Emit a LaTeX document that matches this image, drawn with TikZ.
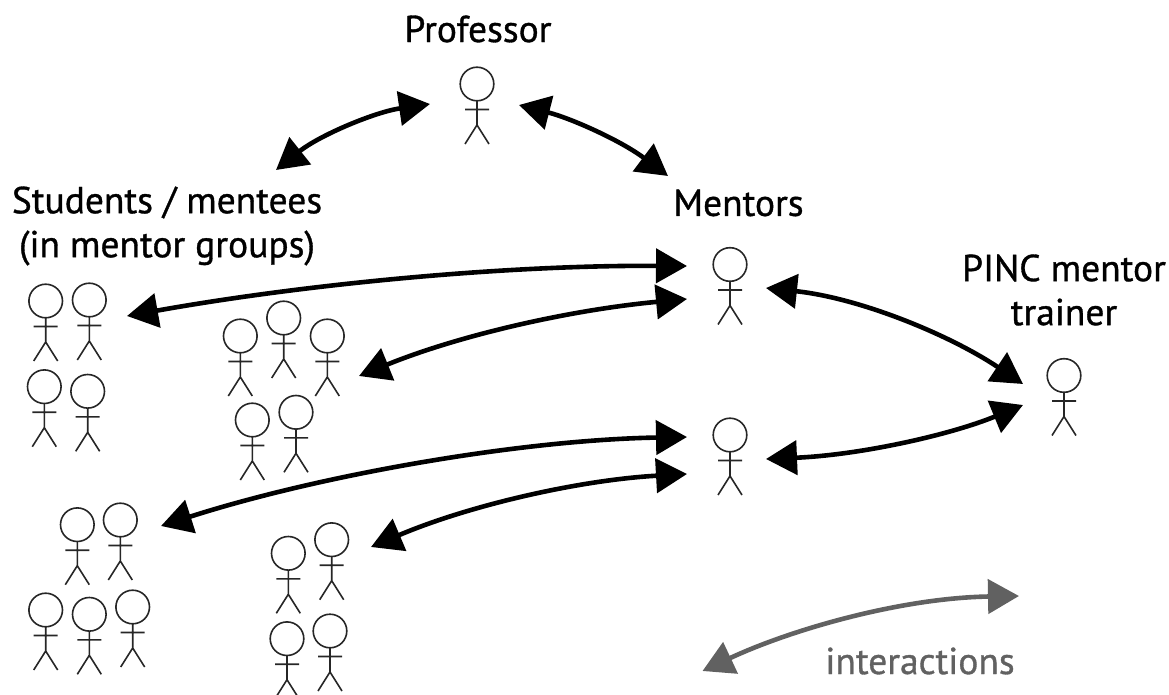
\documentclass[tikz,border=0pt]{standalone}
\usepackage{fontspec}
\setmainfont{PT Sans}[FakeBold=0.9]
\usetikzlibrary{arrows.meta}
\tikzset{
  x=1bp,y=-1bp,
  figure/.style={line width=1.6bp,draw=black!85},
  link/.style={line width=4.6bp,draw=black,{Triangle[length=31bp,width=34bp]}-{Triangle[length=31bp,width=34bp]}},
  greylink/.style={line width=4.6bp,draw=black!62,{Triangle[length=31bp,width=34bp]}-{Triangle[length=31bp,width=34bp]}},
  label/.style={font=\fontsize{37.5bp}{44bp}\selectfont,align=center,text=black,inner sep=0pt},
  person/.pic={
    \draw[figure] (0,0) circle[radius=16.8];
    \draw[figure] (0,16.8) -- (0,41) (-12,25.5) -- (12,25.5) (-12,60) -- (0,41) -- (12,60);
  }
}
\newcommand{\who}[3]{\pic at (#2,#3) {person}; \coordinate (#1) at (#2,#3);}
\begin{document}
\begin{tikzpicture}
\useasboundingbox (0,0) rectangle (1169,695);
\who{prof}{477}{84}
\who{mentorA}{730}{264.5}
\who{mentorB}{730}{435}
\who{trainer}{1064}{375.5}
\who{a1}{45.7}{301}\who{a2}{89.3}{300}\who{a3}{44.3}{386.7}\who{a4}{87.7}{391.3}
\who{b1}{240.3}{336}\who{b2}{283.7}{318}\who{b3}{327.3}{336}\who{b4}{252.3}{420}\who{b5}{296}{412.3}
\who{c1}{77.3}{524.7}\who{c2}{120.3}{520}\who{c3}{45.7}{610}\who{c4}{89.3}{614.3}\who{c5}{132.7}{607}
\who{d1}{288.3}{553.3}\who{d2}{331.7}{539.7}\who{d3}{287}{638.7}\who{d4}{330}{631}
\node[label] (tprof) at (478,29) {Professor};
\node[label] (tment) at (738.5,203) {Mentors};
\node[label] (tstud) at (167,226) {Students / mentees\\(in mentor groups)};
\node[label] (ttrain) at (1064,290) {PINC mentor\\trainer};
\node[label,text=black!62] (tint) at (920,661) {interactions};
\coordinate (pl) at (430,104); \coordinate (sl) at (276,170);
\coordinate (pr) at (519,105); \coordinate (mr) at (668,176);
\coordinate (ga) at (127,316); \coordinate (mA1) at (687,266);
\coordinate (gb) at (359,376); \coordinate (mA2) at (687,299);
\coordinate (gc) at (161,526); \coordinate (mB1) at (687,437);
\coordinate (gd) at (371,547); \coordinate (mB2) at (687,474);
\coordinate (mA3) at (766,288); \coordinate (t1) at (1023,384);
\coordinate (mB3) at (766,459); \coordinate (t2) at (1023,405);
\coordinate (g1) at (702.5,671); \coordinate (g2) at (1019,596);
\draw[link] (sl) .. controls (320,135) and (375,112) .. (pl);
\draw[link] (pr) .. controls (570,118) and (620,140) .. (mr);
\draw[link] (ga) .. controls (300,285) and (500,265) .. (mA1);
\draw[link] (gb) .. controls (460,335) and (570,310) .. (mA2);
\draw[link] (gc) .. controls (320,475) and (520,440) .. (mB1);
\draw[link] (gd) .. controls (470,505) and (580,480) .. (mB2);
\draw[link] (mA3) .. controls (860,298) and (950,335) .. (t1);
\draw[link] (mB3) .. controls (860,455) and (950,435) .. (t2);
\draw[greylink] (g1) .. controls (790,630) and (900,598) .. (g2);
\end{tikzpicture}
\end{document}
